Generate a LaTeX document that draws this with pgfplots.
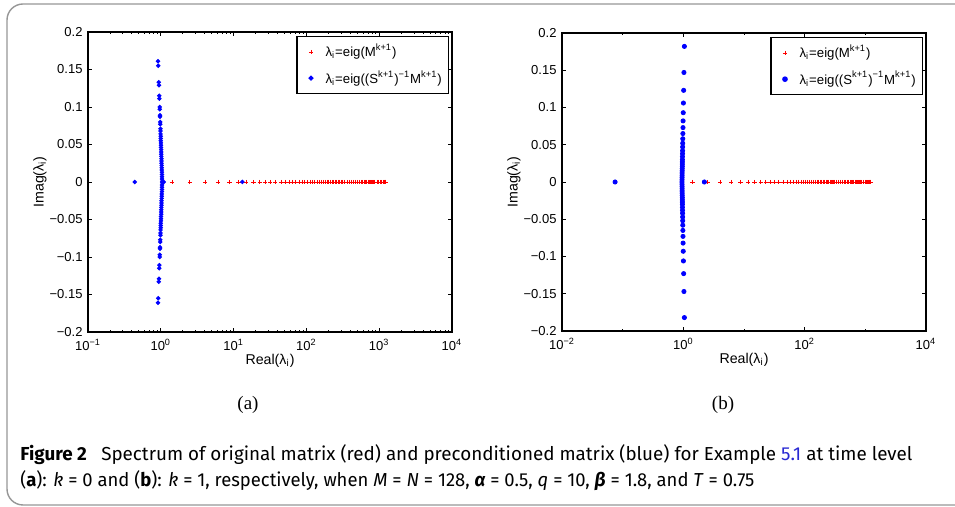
\documentclass[border=0pt]{standalone}
\usepackage{fontspec}
\setmainfont{Liberation Sans}
\newfontfamily\capfont{Fira Sans}
\newfontfamily\subfont{Liberation Serif}
\usepackage{graphicx}
\usepackage{pgfplots}
\usepackage{pgfplotstable}
\pgfplotsset{compat=1.18}

\definecolor{framegray}{RGB}{150,150,150}
\definecolor{linkblue}{RGB}{40,40,210}

% eigenvalues of M^{k+1} (all real)
\pgfplotstableread{
re im
1.426 0
2.495 0
4.046 0
6.11 0
8.73 0
11.75 0
14.93 0
18.88 0
22.86 0
27.23 0
31.9 0
37.07 0
44.84 0
51.0 0
57.6 0
64.5 0
71.7 0
79.2 0
87.0 0
95.2 0
103.7 0
112.4 0
121.5 0
130.8 0
140.4 0
150.2 0
160.3 0
170.7 0
181.3 0
192.1 0
203.2 0
214.5 0
226.0 0
237.7 0
249.6 0
261.7 0
273.9 0
286.4 0
299.0 0
311.8 0
337.8 0
364.8 0
391.5 0
419.0 0
446.9 0
475.1 0
503.4 0
532.1 0
560.8 0
589.5 0
618.3 0
647.0 0
675.6 0
704.1 0
732.1 0
760.0 0
787.5 0
814.6 0
841.2 0
867.3 0
929.9 0
987.9 0
1040.8 0
1087.9 0
1128.4 0
1162.0 0
1188.3 0
1206.8 0
1215.8 0
1219.2 0
}\redtab

% preconditioned, k = 0
\pgfplotstableread{
re im
0.44 0
13.2 0
1.10 0
0.916 0.161
0.921 0.155
0.939 0.133
0.942 0.129
0.953 0.115
0.956 0.111
0.965 0.100
0.967 0.097
0.974 0.089
0.975 0.087
0.981 0.080
0.983 0.077
0.988 0.071
0.991 0.068
0.994 0.064
0.996 0.061
0.999 0.058
1.001 0.055
1.003 0.052
1.006 0.049
1.008 0.046
1.011 0.043
1.013 0.040
1.015 0.037
1.018 0.034
1.020 0.031
1.023 0.028
1.025 0.025
1.027 0.022
1.030 0.019
1.032 0.016
1.035 0.013
1.037 0.010
1.039 0.007
1.042 0.004
1.044 0.001
0.916 -0.161
0.921 -0.155
0.939 -0.133
0.942 -0.129
0.953 -0.115
0.956 -0.111
0.965 -0.100
0.967 -0.097
0.974 -0.089
0.975 -0.087
0.981 -0.080
0.983 -0.077
0.988 -0.071
0.991 -0.068
0.994 -0.064
0.996 -0.061
0.999 -0.058
1.001 -0.055
1.003 -0.052
1.006 -0.049
1.008 -0.046
1.011 -0.043
1.013 -0.040
1.015 -0.037
1.018 -0.034
1.020 -0.031
1.023 -0.028
1.025 -0.025
1.027 -0.022
1.030 -0.019
1.032 -0.016
1.035 -0.013
1.037 -0.010
1.039 -0.007
1.042 -0.004
1.044 -0.001
}\blueA

% preconditioned, k = 1
\pgfplotstableread{
re im
0.075 0
2.22 0
1.041 0.182
1.024 0.147
1.012 0.123
1.003 0.106
0.997 0.093
0.991 0.082
0.987 0.073
0.983 0.065
0.979 0.058
0.976 0.052
0.974 0.047
0.971 0.042
0.969 0.038
0.967 0.034
0.965 0.030
0.964 0.027
0.962 0.024
0.961 0.021
0.959 0.018
0.958 0.015
0.956 0.012
0.955 0.009
0.953 0.006
0.952 0.003
0.950 0.000
1.041 -0.182
1.024 -0.147
1.012 -0.123
1.003 -0.106
0.997 -0.093
0.991 -0.082
0.987 -0.073
0.983 -0.065
0.979 -0.058
0.976 -0.052
0.974 -0.047
0.971 -0.042
0.969 -0.038
0.967 -0.034
0.965 -0.030
0.964 -0.027
0.962 -0.024
0.961 -0.021
0.959 -0.018
0.958 -0.015
0.956 -0.012
0.955 -0.009
0.953 -0.006
0.952 -0.003
}\blueB

\pgfplotsset{
  eigax/.style={
    scale only axis, width=182pt, height=150pt,
    ymin=-0.2, ymax=0.2,
    ytick={-0.2,-0.15,-0.1,-0.05,0,0.05,0.1,0.15,0.2},
    yticklabels={−0.2,−0.15,−0.1,−0.05,0,0.05,0.1,0.15,0.2},
    tick align=inside, tick pos=both,
    major tick length=1.8pt, minor tick length=1pt,
    axis line style={line width=0.6pt},
    tick style={line width=0.4pt, black},
    ticklabel style={font=\fontsize{6.5}{7.5}\selectfont},
    yticklabel style={xshift=0.8pt},
    xlabel={Real(λ\textsubscript{i})},
    ylabel={Imag(λ\textsubscript{i})},
    label style={font=\fontsize{7.1}{8.5}\selectfont},
    xlabel style={at={(axis description cs:0.5,-0.073)}, anchor=north, inner sep=0pt},
    ylabel style={at={(axis description cs:-0.113,0.5)}, anchor=south, inner sep=0pt},
    legend style={at={(0.992,0.987)}, anchor=north east, draw=black,
      line width=0.7pt, font=\fontsize{6.6}{8}\selectfont,
      inner xsep=2.5pt, inner ysep=3pt, row sep=3.6pt,
      nodes={inner sep=0.8pt}},
    legend cell align=left,
    legend image code/.code={\path[draw=none, fill=none] (0pt,0pt) -- (11pt,0pt); \draw[##1] plot coordinates {(4.5pt,0pt)};},
  },
  redpts/.style={only marks, mark=+, color=red, mark options={red}, mark size=1.1pt, line width=0.4pt},
  bluepts/.style={only marks, mark=*, color=blue, mark options={blue}, mark size=#1},
}

\begin{document}
\begin{tikzpicture}
\path[use as bounding box] (0pt,0pt) rectangle (477.5pt,253.5pt);
\draw[framegray, line width=0.7pt, rounded corners=8pt] (3.5pt,1pt) rectangle (495pt,251.5pt);

\begin{axis}[xmode=log, eigax, at={(44pt,87.5pt)}, anchor=south west,
  xmin=0.1, xmax=10000,
  xtick={0.1,1,10,100,1000,10000},
  xticklabels={10\textsuperscript{−1},10\textsuperscript{0},10\textsuperscript{1},10\textsuperscript{2},10\textsuperscript{3},10\textsuperscript{4}},
  minor xtick={0.2,0.3,0.4,0.5,0.6,0.7,0.8,0.9,2,3,4,5,6,7,8,9,20,30,40,50,60,70,80,90,200,300,400,500,600,700,800,900,2000,3000,4000,5000,6000,7000,8000,9000},
]
\addplot[redpts] table[x=re, y=im] {\redtab};
\addlegendentry{λ\textsubscript{i}=eig(M\textsuperscript{k+1})}
\addplot[bluepts=0.9pt] table[x=re, y=im] {\blueA};
\addlegendentry{λ\textsubscript{i}=eig((S\textsuperscript{k+1})\textsuperscript{−1}M\textsuperscript{k+1})}
\end{axis}

\begin{axis}[xmode=log, eigax, at={(281pt,88pt)}, anchor=south west, height=149pt,
  xmin=0.01, xmax=10000,
  xtick={0.01,1,100,10000},
  xticklabels={10\textsuperscript{−2},10\textsuperscript{0},10\textsuperscript{2},10\textsuperscript{4}},
  minor xtick={0.1,10,1000},
]
\addplot[redpts] table[x=re, y=im] {\redtab};
\addlegendentry{λ\textsubscript{i}=eig(M\textsuperscript{k+1})}
\addplot[bluepts=1.05pt] table[x=re, y=im] {\blueB};
\addlegendentry{λ\textsubscript{i}=eig((S\textsuperscript{k+1})\textsuperscript{−1}M\textsuperscript{k+1})}
\end{axis}

\node[font=\subfont\fontsize{9.5}{11}\selectfont] at (124pt,51pt) {(a)};
\node[font=\subfont\fontsize{9.5}{11}\selectfont] at (361.5pt,51pt) {(b)};

\node[anchor=base west, inner sep=0pt] at (10pt,23pt) {\resizebox{446pt}{\height}{\capfont\fontsize{9.4}{11}\selectfont\textbf{Figure 2}\hspace{0.5em} Spectrum of original matrix (red) and preconditioned matrix (blue) for Example {\color{linkblue}5.1} at time level}};
\node[anchor=base west, inner sep=0pt] at (10pt,10pt) {\resizebox{367pt}{\height}{\capfont\fontsize{9.4}{11}\selectfont (\textbf{a}): \textit{k} = 0 and (\textbf{b}): \textit{k} = 1, respectively, when \textit{M} = \textit{N} = 128, \textbf{\textit{α}} = 0.5, \textit{q} = 10, \textbf{\textit{β}} = 1.8, and \textit{T} = 0.75}};
\end{tikzpicture}
\end{document}
